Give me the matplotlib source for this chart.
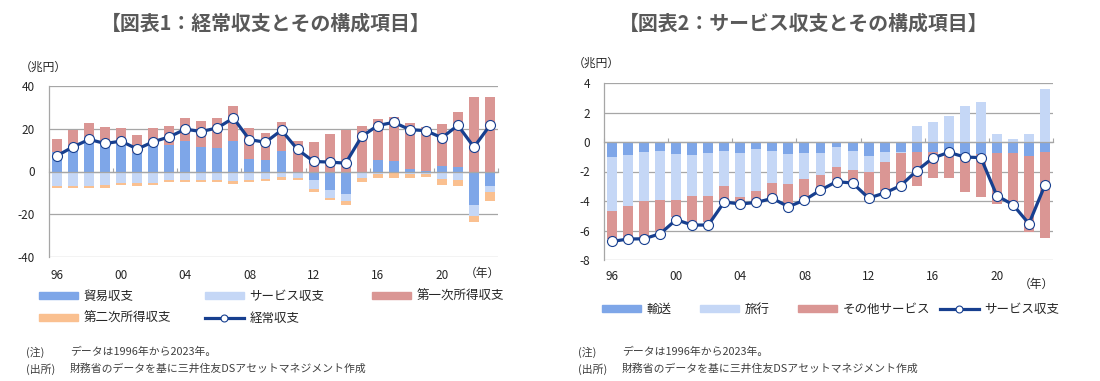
import matplotlib
matplotlib.use("Agg")
import matplotlib.pyplot as plt
import numpy as np
from matplotlib.lines import Line2D
from matplotlib.patches import Patch

plt.rcParams["font.family"] = ["Noto Sans CJK JP", "DejaVu Sans"]

W, H = 1100, 381

years = list(range(1996, 2024))
year_labels = ["96", "00", "04", "08", "12", "16", "20"]

# 図表1 (兆円)
trade = [9.2, 12.2, 16.0, 14.3, 12.9, 8.5, 12.0, 12.4, 14.4, 11.6, 11.1, 14.3, 5.8, 5.4,
         9.6, -0.3, -4.2, -8.7, -10.6, -0.9, 5.5, 4.9, 1.2, 0.4, 2.7, 1.9, -15.5, -6.6]
services = [-6.7, -6.6, -6.6, -6.2, -5.3, -5.6, -5.6, -4.1, -4.2, -4.1, -3.8, -4.4, -3.9, -3.3,
            -2.7, -2.8, -3.8, -3.5, -3.0, -2.0, -1.1, -0.7, -1.0, -1.1, -3.6, -4.2, -5.5, -2.9]
primary = [6.0, 7.0, 6.7, 6.5, 7.3, 8.6, 8.2, 9.0, 10.4, 12.0, 14.1, 16.3, 14.4, 12.8,
           13.5, 14.2, 13.9, 17.7, 19.2, 21.1, 19.0, 20.4, 21.3, 20.2, 19.5, 26.1, 35.0, 34.8]
secondary = [-0.9, -1.0, -1.1, -1.3, -1.0, -1.0, -0.8, -0.8, -0.8, -0.8, -1.2, -1.4, -1.2, -1.1,
             -1.1, -1.0, -1.4, -1.0, -2.0, -2.0, -2.1, -2.2, -2.1, -1.5, -2.7, -2.7, -2.7, -4.1]
current = [7.4, 11.5, 15.0, 13.1, 14.2, 10.5, 13.9, 16.2, 19.8, 18.7, 20.4, 25.0, 14.9, 13.7,
           19.3, 10.3, 4.7, 4.4, 3.9, 16.4, 21.5, 23.0, 19.6, 19.1, 15.8, 21.6, 11.4, 21.6]

# 図表2 (兆円)
transport = [-1.04, -0.88, -0.68, -0.59, -0.81, -0.86, -0.77, -0.59, -0.72, -0.48, -0.59, -0.84, -0.72, -0.77,
             -0.36, -0.59, -0.97, -0.70, -0.70, -0.68, -0.68, -0.68, -0.79, -0.79, -0.75, -0.75, -0.93, -0.68]
travel = [-3.62, -3.49, -3.30, -3.37, -3.10, -2.83, -2.87, -2.40, -2.99, -2.84, -2.17, -2.01, -1.81, -1.47,
          -1.31, -1.33, -1.09, -0.68, -0.05, 1.06, 1.33, 1.79, 2.42, 2.69, 0.54, 0.23, 0.52, 3.62]
other = [-1.92, -2.21, -2.52, -2.10, -1.20, -1.81, -1.77, -0.95, -0.45, -0.75, -1.00, -1.43, -1.29, -1.02,
         -0.91, -0.86, -1.63, -1.97, -2.20, -2.33, -1.76, -1.76, -2.63, -2.97, -3.46, -3.62, -5.18, -5.86]
svc_total = [-6.74, -6.58, -6.56, -6.22, -5.27, -5.63, -5.63, -4.07, -4.20, -4.10, -3.82, -4.39, -3.94, -3.26,
             -2.69, -2.78, -3.80, -3.46, -2.96, -1.95, -1.09, -0.70, -1.02, -1.06, -3.64, -4.25, -5.54, -2.92]

BLUE = "#7ea6e8"
LBLUE = "#c5d7f6"
PINK = "#da9694"
ORANGE = "#fac090"
NAVY = "#173f8f"
GRID = "#a6a6a6"
TXT = "#262626"


def fx(x):
    return x / W


def fy(y):
    return 1 - y / H


def stacked(ax, series, colors):
    x = np.arange(len(years))
    pos = np.zeros(len(years))
    neg = np.zeros(len(years))
    for vals, c in zip(series, colors):
        v = np.array(vals, dtype=float)
        base = np.where(v >= 0, pos, neg)
        ax.bar(x, v, bottom=base, width=0.62, color=c, linewidth=0, zorder=2)
        pos += np.where(v > 0, v, 0)
        neg += np.where(v < 0, v, 0)


def line(ax, vals):
    x = np.arange(len(years))
    ax.plot(x, vals, color=NAVY, lw=2.3, marker="o", ms=7.2, mfc="white",
            mec=NAVY, mew=0.8, zorder=4)


def style_axes(ax, yticks, label_off):
    n = len(years)
    ax.set_xlim(-0.5, n - 0.5)
    ax.set_ylim(yticks[0], yticks[-1])
    ax.set_yticks(yticks)
    ax.set_yticklabels([str(t) for t in yticks], fontsize=8.5, color=TXT)
    ax.tick_params(axis="y", length=0, pad=10)
    ax.grid(axis="y", color=GRID, lw=0.9, zorder=0)
    ax.set_axisbelow(True)
    for s in ("top", "right"):
        ax.spines[s].set_visible(False)
    ax.spines["left"].set_color(GRID)
    ax.spines["left"].set_linewidth(0.9)
    ax.spines["bottom"].set_position(("data", 0))
    ax.spines["bottom"].set_color(GRID)
    ax.spines["bottom"].set_linewidth(0.9)
    ax.spines["bottom"].set_zorder(3)
    ax.set_xticks(np.arange(-0.5, n, 4))
    ax.tick_params(axis="x", direction="in", length=2.8, color=GRID,
                   labelbottom=False)
    for i, lab in enumerate(year_labels):
        ax.annotate(lab, xy=(i * 4, 0), xycoords=("data", "axes fraction"),
                    xytext=(0, label_off), textcoords="offset points",
                    ha="center", va="center", fontsize=8.5, color=TXT)


def col_legend(fig, handles, labels, x, y):
    fig.legend(handles, labels, loc="upper left", bbox_to_anchor=(fx(x), fy(y)),
               frameon=False, borderpad=0, borderaxespad=0, handlelength=3.1,
               handleheight=0.55, handletextpad=0.45, labelspacing=0.7,
               fontsize=9, labelcolor=TXT)


fig = plt.figure(figsize=(W / 100, H / 100), dpi=100)

# ---- 図表1
ax1 = fig.add_axes([fx(49), fy(257), fx(449), (257 - 86) / H])
stacked(ax1, [trade, services, primary, secondary], [BLUE, LBLUE, PINK, ORANGE])
line(ax1, current)
style_axes(ax1, [-40, -20, 0, 20, 40], -13)

# ---- 図表2
ax2 = fig.add_axes([fx(604), fy(260), fx(449), (260 - 83) / H])
stacked(ax2, [transport, travel, other], [BLUE, LBLUE, PINK])
line(ax2, svc_total)
style_axes(ax2, [-8, -6, -4, -2, 0, 2, 4], -12)

fig.text(fx(266), fy(23), "【図表1：経常収支とその構成項目】", ha="center", va="center",
         fontsize=14.3, fontweight="bold", color="#595959")
fig.text(fx(804), fy(23), "【図表2：サービス収支とその構成項目】", ha="center", va="center",
         fontsize=14.3, fontweight="bold", color="#595959")

fig.text(fx(43), fy(67), "（兆円）", ha="center", va="center", fontsize=8.5, color=TXT)
fig.text(fx(596), fy(63), "（兆円）", ha="center", va="center", fontsize=8.5, color=TXT)
fig.text(fx(482), fy(273), "（年）", ha="center", va="center", fontsize=8.5, color=TXT)
fig.text(fx(1036), fy(284), "（年）", ha="center", va="center", fontsize=8.5, color=TXT)

lh = Line2D([], [], color=NAVY, lw=2.3, marker="o", ms=5, mfc="white", mec=NAVY, mew=0.8)

col_legend(fig, [Patch(color=BLUE), Patch(color=ORANGE)], ["貿易収支", "第二次所得収支"], 39, 290)
col_legend(fig, [Patch(color=LBLUE), lh], ["サービス収支", "経常収支"], 205, 290)
col_legend(fig, [Patch(color=PINK)], ["第一次所得収支"], 372, 290)

col_legend(fig, [Patch(color=BLUE)], ["輸送"], 602, 303)
col_legend(fig, [Patch(color=LBLUE)], ["旅行"], 700, 303)
col_legend(fig, [Patch(color=PINK)], ["その他サービス"], 798, 303)
col_legend(fig, [lh], ["サービス収支"], 940, 303)

for x0 in (26, 578):
    fig.text(fx(x0), fy(352), "(注)", ha="left", va="center", fontsize=7.8, color="#404040")
    fig.text(fx(x0 + 44), fy(352), "データは1996年から2023年。", ha="left", va="center",
             fontsize=7.8, color="#404040")
    fig.text(fx(x0), fy(369), "(出所)", ha="left", va="center", fontsize=7.8, color="#404040")
    fig.text(fx(x0 + 44), fy(369), "財務省のデータを基に三井住友DSアセットマネジメント作成",
             ha="left", va="center", fontsize=7.8, color="#404040")

fig.savefig("out.png", dpi=100)
